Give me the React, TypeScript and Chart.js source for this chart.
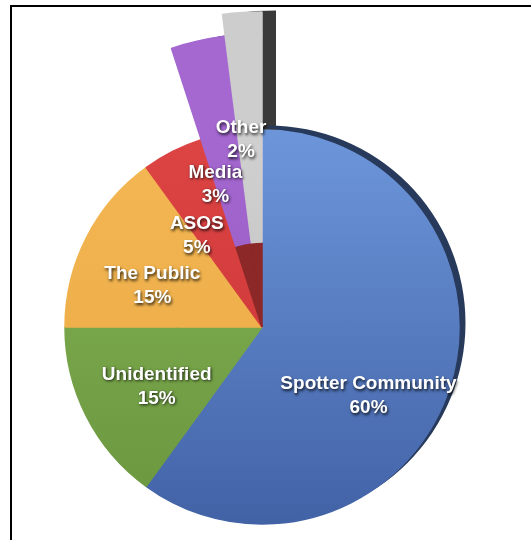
import React, { useEffect, useRef } from "react";
import { Chart, registerables } from "chart.js";

Chart.register(...registerables);

// ---- data ----
const categories = ["Spotter Community", "Unidentified", "The Public", "ASOS", "Media", "Other"];
const shares = [60, 15, 15, 5, 3, 2];
const percentLabels = ["60%", "15%", "15%", "5%", "3%", "2%"];

// ---- styles ----
const lightColors = ["#6d96da", "#85b454", "#f3b753", "#dd4444", "#a468d0", "#d0d0d0"];
const darkColors = ["#4262a6", "#6a963f", "#eba945", "#c93434", "#9055bc", "#bcbcbc"];
const sideColors = ["#283a5c", "#4a6a2c", "#b07c2c", "#7e2020", "#3a1f58", "#3a3a3a"];
const coreHiddenColor = "#8c2828";

const PIE_R = 197;
const TOTAL_R = 315;

// which slices are raised as columns in each ring
const capVisible = [false, false, false, false, false, true];
const columnVisible = [false, false, false, false, true, true];
const coreExploded = [false, false, false, false, true, true];

function gradientFill(c: any, i: number) {
  const chart = c.chart;
  const area = chart.chartArea;
  if (!area) return lightColors[i];
  const cy = (area.top + area.bottom) / 2;
  const g = chart.ctx.createLinearGradient(0, cy - PIE_R, 0, cy + PIE_R);
  g.addColorStop(0, lightColors[i]);
  g.addColorStop(1, darkColors[i]);
  return g;
}

function ringDataset(weight: number, color: (c: any) => any, visible: (i: number) => boolean) {
  return {
    data: shares,
    weight,
    radius: TOTAL_R,
    backgroundColor: (c: any) => (visible(c.dataIndex) ? color(c) : "rgba(0,0,0,0)"),
    borderColor: (c: any) => (visible(c.dataIndex) ? color(c) : "rgba(0,0,0,0)"),
    borderWidth: (c: any) => (visible(c.dataIndex) ? 1.5 : 0),
  };
}

// side-face shifts (px) for the 3D look
const sideShift: Record<number, [number, number]> = { 0: [6, -4], 4: [11, -2], 5: [14, -1] };

const sideFacesPlugin = {
  id: "sideFaces",
  beforeDatasetsDraw(chart: any) {
    const ctx = chart.ctx;
    for (let d = 0; d < chart.data.datasets.length; d++) {
      const meta = chart.getDatasetMeta(d);
      meta.data.forEach((el: any, i: number) => {
        const shift = sideShift[i];
        if (!shift) return;
        if (d === 0 && !capVisible[i]) return;
        if (d === 1 && !columnVisible[i]) return;
        if (d === 3 && coreExploded[i]) return;
        ctx.save();
        ctx.translate(shift[0], shift[1]);
        ctx.beginPath();
        ctx.arc(el.x, el.y, el.outerRadius + 0.5, el.startAngle, el.endAngle);
        ctx.arc(el.x, el.y, Math.max(el.innerRadius - 0.5, 0), el.endAngle, el.startAngle, true);
        ctx.closePath();
        ctx.fillStyle = sideColors[i];
        ctx.fill();
        ctx.restore();
      });
    }
  },
};

// label placement: radius (px) and angle nudge (deg) from slice middle
const labelPlacement = [
  { r: 127, da: 15 },
  { r: 121, da: -2.5 },
  { r: 117, da: -6.6 },
  { r: 112, da: -8.6 },
  { r: 150, da: -5.5 },
  { r: 188, da: -2.8 },
];

const labelsPlugin = {
  id: "sliceLabels",
  afterDatasetsDraw(chart: any) {
    const ctx = chart.ctx;
    const meta = chart.getDatasetMeta(2);
    ctx.save();
    ctx.font = 'bold 19px "Liberation Sans", Arial, Helvetica, sans-serif';
    ctx.textAlign = "center";
    ctx.textBaseline = "middle";
    ctx.fillStyle = "#ffffff";
    ctx.shadowColor = "rgba(0,0,0,0.8)";
    ctx.shadowBlur = 3;
    ctx.shadowOffsetX = 1;
    ctx.shadowOffsetY = 1.5;
    meta.data.forEach((el: any, i: number) => {
      const p = labelPlacement[i];
      const mid = (el.startAngle + el.endAngle) / 2 + (p.da * Math.PI) / 180;
      const x = el.x + p.r * Math.cos(mid);
      const y = el.y + p.r * Math.sin(mid);
      ctx.fillText(categories[i], x, y - 12);
      ctx.fillText(percentLabels[i], x, y + 12);
    });
    ctx.restore();
  },
};

const columnColor = (c: any) => (c.dataIndex === 5 ? "#cdcdcd" : lightColors[c.dataIndex]);

export default function App() {
  const ref = useRef<HTMLCanvasElement | null>(null);

  useEffect(() => {
    if (!ref.current) return;
    const chart = new Chart(ref.current, {
      type: "pie",
      data: {
        labels: categories,
        datasets: [
          // outer cap: only the tallest column
          ringDataset(TOTAL_R - 293, columnColor, (i) => capVisible[i]) as any,
          // raised columns
          ringDataset(293 - PIE_R, columnColor, (i) => columnVisible[i]) as any,
          // main pie, outer part
          ringDataset(PIE_R - 85, (c) => gradientFill(c, c.dataIndex), () => true) as any,
          // main pie, core
          ringDataset(85, (c) => (coreExploded[c.dataIndex] ? coreHiddenColor : gradientFill(c, c.dataIndex)), () => true) as any,
        ],
      },
      options: {
        responsive: false,
        animation: false,
        events: [],
        layout: { padding: { left: 0, right: 7, top: 114, bottom: 0 } },
        plugins: {
          legend: { display: false },
          tooltip: { enabled: false },
        },
      } as any,
      plugins: [sideFacesPlugin, labelsPlugin],
    });
    return () => chart.destroy();
  }, []);

  return (
    <div style={{ position: "absolute", left: 0, top: 0, width: 531, height: 540, background: "#ffffff" }}>
      <div
        style={{
          position: "absolute",
          left: 10,
          top: 5,
          width: 521,
          height: 535,
          borderLeft: "2px solid #000",
          borderTop: "2px solid #000",
          boxSizing: "border-box",
        }}
      />
      <canvas ref={ref} width={531} height={540} style={{ position: "absolute", left: 0, top: 0 }} />
    </div>
  );
}
